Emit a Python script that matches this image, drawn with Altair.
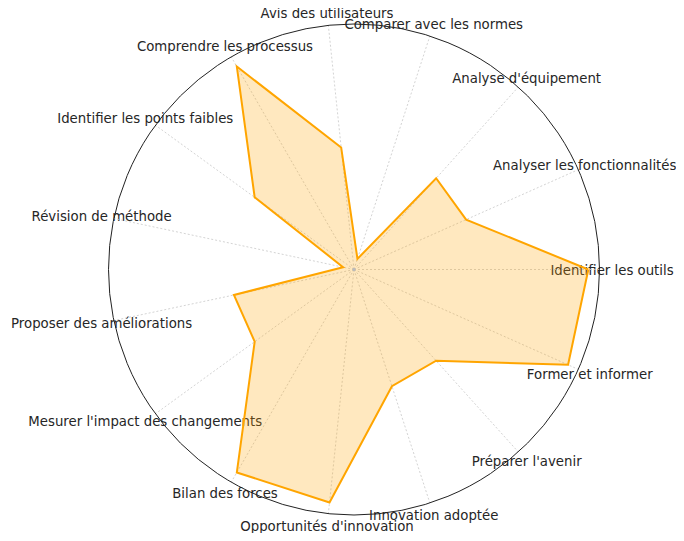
import altair as alt
import pandas as pd

# ---- data ----
categories = [
    "Identifier les outils",
    "Analyser les fonctionnalités",
    "Analyse d'équipement",
    "Comparer avec les normes",
    "Avis des utilisateurs",
    "Comprendre les processus",
    "Identifier les points faibles",
    "Révision de méthode",
    "Proposer des améliorations",
    "Mesurer l'impact des changements",
    "Bilan des forces",
    "Opportunités d'innovation",
    "Innovation adoptée",
    "Préparer l'avenir",
    "Former et informer",
]
values = [3, 2, 2, 1, 2, 3, 2, 1, 2, 2, 3, 3, 2, 2, 3]
title_text = "Analyse Critique des Équipements et Méthodes en Photographie"
radial_range = [0.9, 3.1]

# ---- layout ----
W, H = 668, 525
CX, CY, R = 346, 261.5, 245.5      # centre & radius of the polar area, px
LABEL_R = 1.051
n = len(categories)
EDGE_IDX = 1                       # label that would run past the right edge

df = pd.DataFrame({"category": categories, "value": values, "idx": list(range(n))})
poly = pd.concat([df, df.iloc[[0]].assign(idx=n)], ignore_index=True)
centre = pd.DataFrame({"px": [0.0], "py": [0.0]})

xs = alt.Scale(domain=[-CX / R, (W - CX) / R], nice=False, zero=False)
ys = alt.Scale(domain=[-(H - CY) / R, CY / R], nice=False, zero=False)

ang = f"datum.idx * 2 * PI / {n}"
rad = f"(datum.value - {radial_range[0]}) / ({radial_range[1]} - {radial_range[0]})"

def base(data):
    return alt.Chart(data).transform_calculate(
        ang=ang,
        r=rad,
    ).transform_calculate(
        px="datum.r * cos(datum.ang)",
        py="datum.r * sin(datum.ang)",
        sx="cos(datum.ang)",
        sy="sin(datum.ang)",
        lx=f"{LABEL_R} * cos(datum.ang)",
        ly=f"{LABEL_R} * sin(datum.ang)",
        zero="0",
    )

text_style = dict(font="DejaVu Sans", fontSize=13.3, color="#262626",
                  align="center", baseline="middle", dy=1)
label_enc = dict(
    x=alt.X("lx:Q", scale=xs, axis=None),
    y=alt.Y("ly:Q", scale=ys, axis=None),
    text="category:N",
)

labels = base(df).transform_filter(f"datum.idx != {EDGE_IDX}").mark_text(
    **text_style
).encode(**label_enc)

labels_edge = base(df).transform_filter(f"datum.idx == {EDGE_IDX}").mark_text(
    dx=-5, **text_style
).encode(**label_enc)

spokes = base(df).mark_rule(
    color="#c8c8c8", strokeWidth=0.8, strokeDash=[2, 2]
).encode(
    x=alt.X("zero:Q", scale=xs, axis=None),
    y=alt.Y("zero:Q", scale=ys, axis=None),
    x2="sx:Q",
    y2="sy:Q",
)

shape = base(poly).mark_line(
    stroke="orange", strokeWidth=2, fill="orange", fillOpacity=0.25, strokeJoin="miter"
).encode(
    x=alt.X("px:Q", scale=xs, axis=None),
    y=alt.Y("py:Q", scale=ys, axis=None),
    order="idx:Q",
)

circle = alt.Chart(centre).mark_point(
    shape="circle", filled=False, stroke="#222222", strokeWidth=1, opacity=1,
    size=(2 * R) ** 2,
).encode(
    x=alt.X("px:Q", scale=xs, axis=None),
    y=alt.Y("py:Q", scale=ys, axis=None),
)

dot = alt.Chart(centre).mark_point(
    shape="circle", filled=True, color="#bbbbbb", size=12, opacity=1
).encode(
    x=alt.X("px:Q", scale=xs, axis=None),
    y=alt.Y("py:Q", scale=ys, axis=None),
)

title = alt.Chart(pd.DataFrame({"t": [title_text]})).mark_text(
    font="DejaVu Sans", fontSize=16.6, color="#a00000", align="center", baseline="alphabetic"
).encode(
    text="t:N",
    x=alt.value(CX),
    y=alt.value(-3),
)

chart = alt.layer(labels, labels_edge, spokes, shape, dot, circle, title).properties(
    width=W, height=H, autosize=alt.AutoSizeParams(type="none"), padding=0
).configure_view(stroke=None)

chart.save("out.html", embed_options={"renderer": "svg", "actions": False})
